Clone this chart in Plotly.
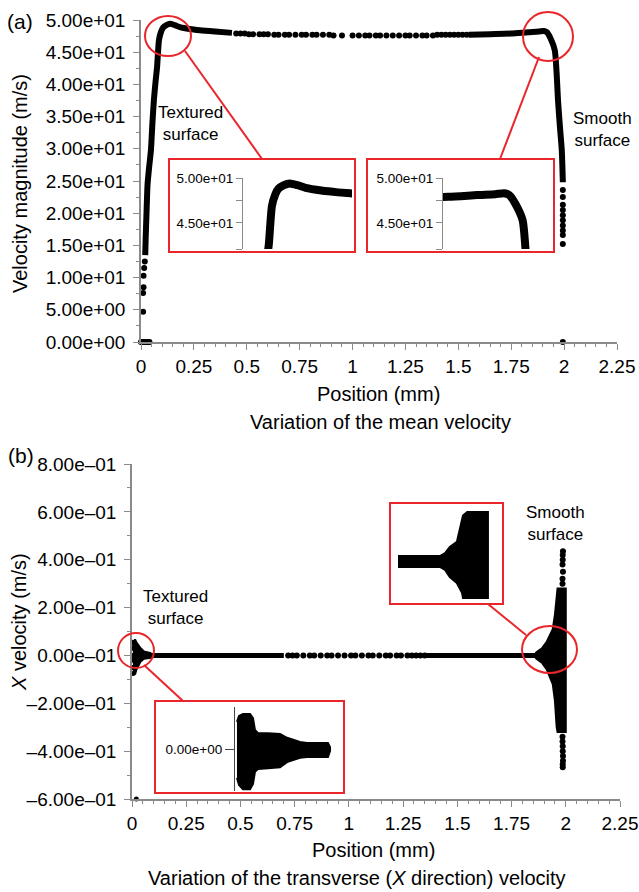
import plotly.graph_objects as go

W, H = 639, 892
FONT = "Liberation Sans, Arial, Helvetica, sans-serif"
RED = "#e8262b"
GRAY = "#8a8a8a"


def px(x):
    return x / W


def py(y):
    return 1 - y / H


# ---------------- Panel (a): mean velocity ----------------
x_tick_vals = [0, 0.25, 0.5, 0.75, 1, 1.25, 1.5, 1.75, 2, 2.25]
x_tick_text = ["0", "0.25", "0.5", "0.75", "1", "1.25", "1.5", "1.75", "2", "2.25"]
a_tick_vals = [0, 5, 10, 15, 20, 25, 30, 35, 40, 45, 50]
a_tick_text = ["0.00e+00", "5.00e+00", "1.00e+01", "1.50e+01", "2.00e+01", "2.50e+01",
               "3.00e+01", "3.50e+01", "4.00e+01", "4.50e+01", "5.00e+01"]

# dense curve near the textured wall
a_left_pos = [0.020, 0.022, 0.025, 0.028, 0.031, 0.038, 0.047, 0.054, 0.061, 0.069, 0.076,
              0.085, 0.095, 0.104, 0.120, 0.137, 0.160, 0.184, 0.230, 0.279, 0.350, 0.430]
a_left_vel = [13.5, 16.0, 19.0, 22.0, 24.5, 27.0, 29.8, 34.0, 37.6, 40.5, 42.7,
              46.9, 48.2, 48.8, 49.2, 49.4, 49.2, 48.9, 48.6, 48.4, 48.2, 48.0]
# sparse dots in the core flow
a_mid_pos = [0.45, 0.47, 0.49, 0.51, 0.53, 0.56, 0.58, 0.60, 0.63, 0.65, 0.68, 0.70, 0.73,
             0.76, 0.78, 0.81, 0.83, 0.86, 0.89, 0.91, 0.95, 1.00, 1.03, 1.06, 1.08, 1.11,
             1.13, 1.16, 1.19, 1.22, 1.25, 1.27, 1.30, 1.33, 1.35, 1.38, 1.40, 1.42, 1.44,
             1.46, 1.48, 1.50, 1.52, 1.54]
a_mid_vel = [47.9, 47.9, 47.9, 47.8, 47.8, 47.8, 47.8, 47.8, 47.7, 47.7, 47.7, 47.7, 47.7,
             47.7, 47.7, 47.7, 47.7, 47.7, 47.7, 47.6, 47.6, 47.6, 47.6, 47.6, 47.6, 47.6,
             47.6, 47.6, 47.6, 47.6, 47.6, 47.6, 47.6, 47.6, 47.6, 47.6, 47.7, 47.7, 47.7,
             47.7, 47.7, 47.7, 47.7, 47.7]
# dense curve near the smooth wall
a_right_pos = [1.55, 1.65, 1.75, 1.83, 1.88, 1.905, 1.919, 1.935, 1.956, 1.965, 1.971,
               1.980, 1.989, 1.994]
a_right_vel = [47.7, 47.8, 47.9, 48.1, 48.2, 48.3, 48.1, 47.2, 45.3, 41.5, 37.6,
               33.5, 29.8, 24.8]
# scattered wall points
a_edge_pos = [0.000, 0.005, 0.010, 0.015, 0.020, 0.025, 0.030, 0.035, 0.040,
              0.010, 0.010, 0.012, 0.012, 0.015, 0.018,
              1.994, 1.994, 1.994, 1.994, 1.994, 1.994, 1.994, 1.994, 1.994, 1.994, 1.994]
a_edge_vel = [0, 0, 0, 0, 0, 0, 0, 0, 0,
              4.7, 7.6, 8.5, 10.3, 11.5, 12.5,
              23.6, 22.5, 21.3, 20.5, 19.7, 18.9, 18.1, 17.3, 16.6, 15.2, 0]

# inset axis ticks (panel a)
a_inset_tick_vals = [42.1, 45, 47.5, 50]
a_inset_tick_text = ["", "4.50e+01", "", "5.00e+01"]

# ---------------- Panel (b): transverse velocity ----------------
b_tick_vals = [-0.6, -0.4, -0.2, 0, 0.2, 0.4, 0.6, 0.8]
b_tick_text = ["\u20136.00e\u201301", "\u20134.00e\u201301", "\u20132.00e\u201301", "0.00e\u201301",
               "2.00e\u201301", "4.00e\u201301", "6.00e\u201301", "8.00e\u201301"]

b_line_pos = [0.07, 0.20, 0.35, 0.50, 0.70, None, 1.36, 1.50, 1.65, 1.80, 1.87]
b_line_vel = [0, 0, 0, 0, 0, None, 0, 0, 0, 0, 0]
b_mid_pos = [0.72, 0.74, 0.76, 0.79, 0.82, 0.84, 0.87, 0.90, 0.92, 0.95, 0.98, 1.01, 1.03,
             1.06, 1.09, 1.11, 1.14, 1.17, 1.19, 1.22, 1.24, 1.27, 1.29, 1.31, 1.33, 1.35]
b_mid_vel = [0.0] * len(b_mid_pos)

b_lblob_pos = [0.004, 0.010, 0.014, 0.020, 0.030, 0.040, 0.055, 0.070, 0.085]
b_lblob_up = [0.040, 0.060, 0.067, 0.055, 0.040, 0.030, 0.017, 0.012, 0.010]
b_lblob_lo = [-0.050, -0.070, -0.080, -0.060, -0.040, -0.025, -0.014, -0.011, -0.010]
b_ldots_pos = [0.003, 0.003, 0.003, 0.004, 0.004, 0.005, 0.020]
b_ldots_vel = [0.055, 0.030, 0.000, -0.020, -0.050, -0.075, -0.600]

b_rflare_pos = [1.86, 1.89, 1.913, 1.940, 1.950, 1.958, 1.962, 2.000]
b_rflare_up = [0.010, 0.030, 0.058, 0.110, 0.170, 0.270, 0.280, 0.280]
b_rflare_lo = [-0.010, -0.030, -0.060, -0.120, -0.190, -0.300, -0.320, -0.320]
b_rdots_pos = [1.985, 1.985, 1.985, 1.986, 1.986, 1.987, 1.987, 1.985, 1.985, 1.986, 1.986,
               1.987, 1.987, 1.986, 1.986]
b_rdots_vel = [0.300, 0.320, 0.380, 0.400, 0.420, 0.435, 0.350, -0.340, -0.360, -0.380,
               -0.400, -0.420, -0.440, -0.455, -0.467]

# inset (b) left: zoom on textured wall
b_in1_pos = [0.0018, 0.0037, 0.0073, 0.0138, 0.0165, 0.0183, 0.0211, 0.0303, 0.0413,
             0.0477, 0.0596, 0.0661, 0.0853, 0.0872]
b_in1_up = [0.058, 0.071, 0.075, 0.075, 0.066, 0.041, 0.034, 0.034, 0.032,
            0.024, 0.015, 0.013, 0.013, 0.004]
b_in1_lo = [-0.062, -0.077, -0.086, -0.086, -0.075, -0.049, -0.043, -0.041, -0.039,
            -0.028, -0.019, -0.017, -0.017, -0.004]
b_in1_dots_pos = [-0.0018, -0.0018, -0.0018, -0.0018, -0.0018, -0.0018, -0.0018]
b_in1_dots_vel = [0.062, 0.045, 0.019, 0.002, -0.017, -0.034, -0.056]
b_in1_tick_vals = [0]
b_in1_tick_text = ["0.00e+00"]

# inset (b) right: zoom on smooth wall
b_in2_pos = [1.797, 1.886, 1.897, 1.907, 1.922, 1.933, 1.935, 1.944, 1.988]
b_in2_up = [-0.010, -0.010, 0.002, 0.026, 0.046, 0.133, 0.150, 0.164, 0.164]
b_in2_lo = [-0.053, -0.053, -0.065, -0.093, -0.117, -0.156, -0.176, -0.176, -0.176]

fig = go.Figure()

line_black = dict(color="black", width=6, shape="spline", smoothing=0.6)
mk = dict(color="black", size=6)

# panel a main
fig.add_trace(go.Scatter(x=a_left_pos, y=a_left_vel, mode="lines", line=line_black,
                         xaxis="x", yaxis="y", cliponaxis=False))
fig.add_trace(go.Scatter(x=a_mid_pos, y=a_mid_vel, mode="markers", marker=mk,
                         xaxis="x", yaxis="y", cliponaxis=False))
fig.add_trace(go.Scatter(x=a_right_pos, y=a_right_vel, mode="lines", line=line_black,
                         xaxis="x", yaxis="y", cliponaxis=False))
fig.add_trace(go.Scatter(x=a_edge_pos, y=a_edge_vel, mode="markers", marker=mk,
                         xaxis="x", yaxis="y", cliponaxis=False))
# panel a insets
inset_line = dict(color="black", width=8, shape="spline", smoothing=0.6)
fig.add_trace(go.Scatter(x=a_left_pos, y=a_left_vel, mode="lines", line=inset_line,
                         xaxis="x3", yaxis="y3"))
fig.add_trace(go.Scatter(x=a_right_pos, y=a_right_vel, mode="lines", line=inset_line,
                         xaxis="x4", yaxis="y4"))


def band(pos, up, lo, xa, ya):
    return go.Scatter(x=list(pos) + list(pos)[::-1], y=list(up) + list(lo)[::-1],
                      mode="lines", fill="toself", fillcolor="black",
                      line=dict(color="black", width=2), xaxis=xa, yaxis=ya)


# panel b main
fig.add_trace(go.Scatter(x=b_line_pos, y=b_line_vel, mode="lines",
                         line=dict(color="black", width=5), xaxis="x2", yaxis="y2"))
fig.add_trace(go.Scatter(x=b_mid_pos, y=b_mid_vel, mode="markers", marker=mk,
                         xaxis="x2", yaxis="y2"))
fig.add_trace(band(b_lblob_pos, b_lblob_up, b_lblob_lo, "x2", "y2"))
fig.add_trace(band(b_rflare_pos, b_rflare_up, b_rflare_lo, "x2", "y2"))
fig.add_trace(go.Scatter(x=b_ldots_pos, y=b_ldots_vel, mode="markers",
                         marker=dict(color="black", size=5),
                         xaxis="x2", yaxis="y2", cliponaxis=False))
fig.add_trace(go.Scatter(x=b_rdots_pos, y=b_rdots_vel, mode="markers", marker=mk,
                         xaxis="x2", yaxis="y2", cliponaxis=False))
# panel b insets
fig.add_trace(band(b_in1_pos, b_in1_up, b_in1_lo, "x5", "y5"))
fig.add_trace(go.Scatter(x=b_in1_dots_pos, y=b_in1_dots_vel, mode="markers",
                         marker=dict(color="black", size=7), xaxis="x5", yaxis="y5",
                         cliponaxis=False))
fig.add_trace(band(b_in2_pos, b_in2_up, b_in2_lo, "x6", "y6"))

tickfont = dict(family=FONT, size=19, color="black")
base = dict(showline=True, linecolor=GRAY, linewidth=1.5, ticks="outside", ticklen=6,
            tickwidth=1.3, tickcolor=GRAY, showgrid=False, zeroline=False,
            tickfont=tickfont, tickmode="array", fixedrange=True, automargin=False)


def minor(d):
    return dict(ticks="outside", ticklen=3, tickwidth=1, tickcolor=GRAY,
                tickmode="linear", tick0=0, dtick=d, showgrid=False)


hidden = dict(visible=False, showgrid=False, zeroline=False, fixedrange=True,
              automargin=False)

inset_font = dict(family=FONT, size=13.5, color="black")


def inset_y(dom, rng, vals, text, color, tlen):
    return dict(domain=dom, range=rng, showline=True, linecolor=color, linewidth=1.2,
                ticks="outside", ticklen=tlen, tickcolor=color, tickmode="array",
                tickvals=vals, ticktext=text, tickfont=inset_font, showgrid=False,
                zeroline=False, fixedrange=True, automargin=False)


fig.update_layout(
    width=W, height=H, margin=dict(l=0, r=0, t=0, b=0, pad=0, autoexpand=False),
    paper_bgcolor="white", plot_bgcolor="rgba(0,0,0,0)", showlegend=False,
    font=dict(family=FONT, color="black"),
    xaxis=dict(base, domain=[px(141), px(617)], range=[0, 2.25], anchor="y",
               tickvals=x_tick_vals, ticktext=x_tick_text, minor=minor(0.05)),
    yaxis=dict(base, domain=[py(342), py(20)], range=[0, 50], anchor="x",
               tickvals=a_tick_vals, ticktext=a_tick_text, minor=minor(2.5),
               ticklabelstandoff=4),
    xaxis2=dict(base, domain=[px(132), px(620)], range=[0, 2.25], anchor="y2",
                tickvals=x_tick_vals, ticktext=x_tick_text, minor=minor(0.05)),
    yaxis2=dict(base, domain=[py(799), py(464)], range=[-0.6, 0.8], anchor="x2",
                tickvals=b_tick_vals, ticktext=b_tick_text, minor=minor(0.1),
                ticklabelstandoff=4),
    xaxis3=dict(hidden, domain=[px(243), px(352)], range=[0, 0.32], anchor="y3"),
    yaxis3=inset_y([py(249), py(178)], [42.1, 50], a_inset_tick_vals, a_inset_tick_text,
                   GRAY, 6),
    xaxis4=dict(hidden, domain=[px(443), px(550)], range=[1.735, 2.032], anchor="y4"),
    yaxis4=inset_y([py(249), py(178)], [42.1, 50], a_inset_tick_vals, a_inset_tick_text,
                   GRAY, 6),
    xaxis5=dict(hidden, domain=[px(235), px(344)], range=[0, 0.1], anchor="y5"),
    yaxis5=inset_y([py(791), py(707)], [-0.09, 0.09], b_in1_tick_vals, b_in1_tick_text,
                   "#444444", 9),
    xaxis6=dict(hidden, domain=[px(390), px(503)], range=[1.78, 2.02], anchor="y6"),
    yaxis6=dict(hidden, domain=[py(604), py(503)], range=[-0.2, 0.2], anchor="x6"),
)
fig.update_layout(yaxis3_anchor="x3", yaxis4_anchor="x4", yaxis5_anchor="x5")


# ---- annotations (text) ----
def ann(text, x, y, size, angle=0):
    fig.add_annotation(text=text, x=px(x), y=py(y), xref="paper", yref="paper",
                       showarrow=False, xanchor="center", yanchor="middle",
                       textangle=angle, font=dict(family=FONT, size=size, color="black"))


ann("(a)", 20, 21, 21)
ann("(b)", 21, 455, 21)
ann("Velocity magnitude (m/s)", 20, 184, 20, -90)
ann("<i>X</i> velocity (m/s)", 19, 622, 20, -90)
ann("Position (mm)", 378, 394, 20)
ann("Variation of the mean velocity", 380, 422, 20)
ann("Position (mm)", 373, 850, 20)
ann("Variation of the transverse (<i>X</i> direction) velocity", 357, 878, 20)
ann("Textured<br>surface", 190, 123, 17)
ann("Smooth<br>surface", 602, 129, 17)
ann("Textured<br>surface", 175, 607, 17)
ann("Smooth<br>surface", 555, 523, 17)


# ---- red call-out shapes ----
def rect(x0, y0, x1, y1):
    fig.add_shape(type="rect", xref="paper", yref="paper", x0=px(x0), x1=px(x1),
                  y0=py(y1), y1=py(y0), line=dict(color=RED, width=2), layer="above")


def circ(x0, y0, x1, y1):
    fig.add_shape(type="circle", xref="paper", yref="paper", x0=px(x0), x1=px(x1),
                  y0=py(y1), y1=py(y0), line=dict(color=RED, width=2), layer="above")


def seg(x0, y0, x1, y1):
    fig.add_shape(type="line", xref="paper", yref="paper", x0=px(x0), x1=px(x1),
                  y0=py(y0), y1=py(y1), line=dict(color=RED, width=2), layer="above")


rect(169, 159, 355, 252)
rect(367, 159, 554, 252)
circ(145, 16, 191, 56)
circ(523, 12, 573, 61)
seg(185, 51, 262, 159)
seg(539, 57, 500, 159)

rect(155, 701, 344, 793)
rect(390, 503, 503, 604)
circ(118, 633, 154, 668)
circ(522, 626, 577, 673)
seg(144, 665, 183, 701)
seg(526, 635, 488, 604)

fig.write_html("out.html")
